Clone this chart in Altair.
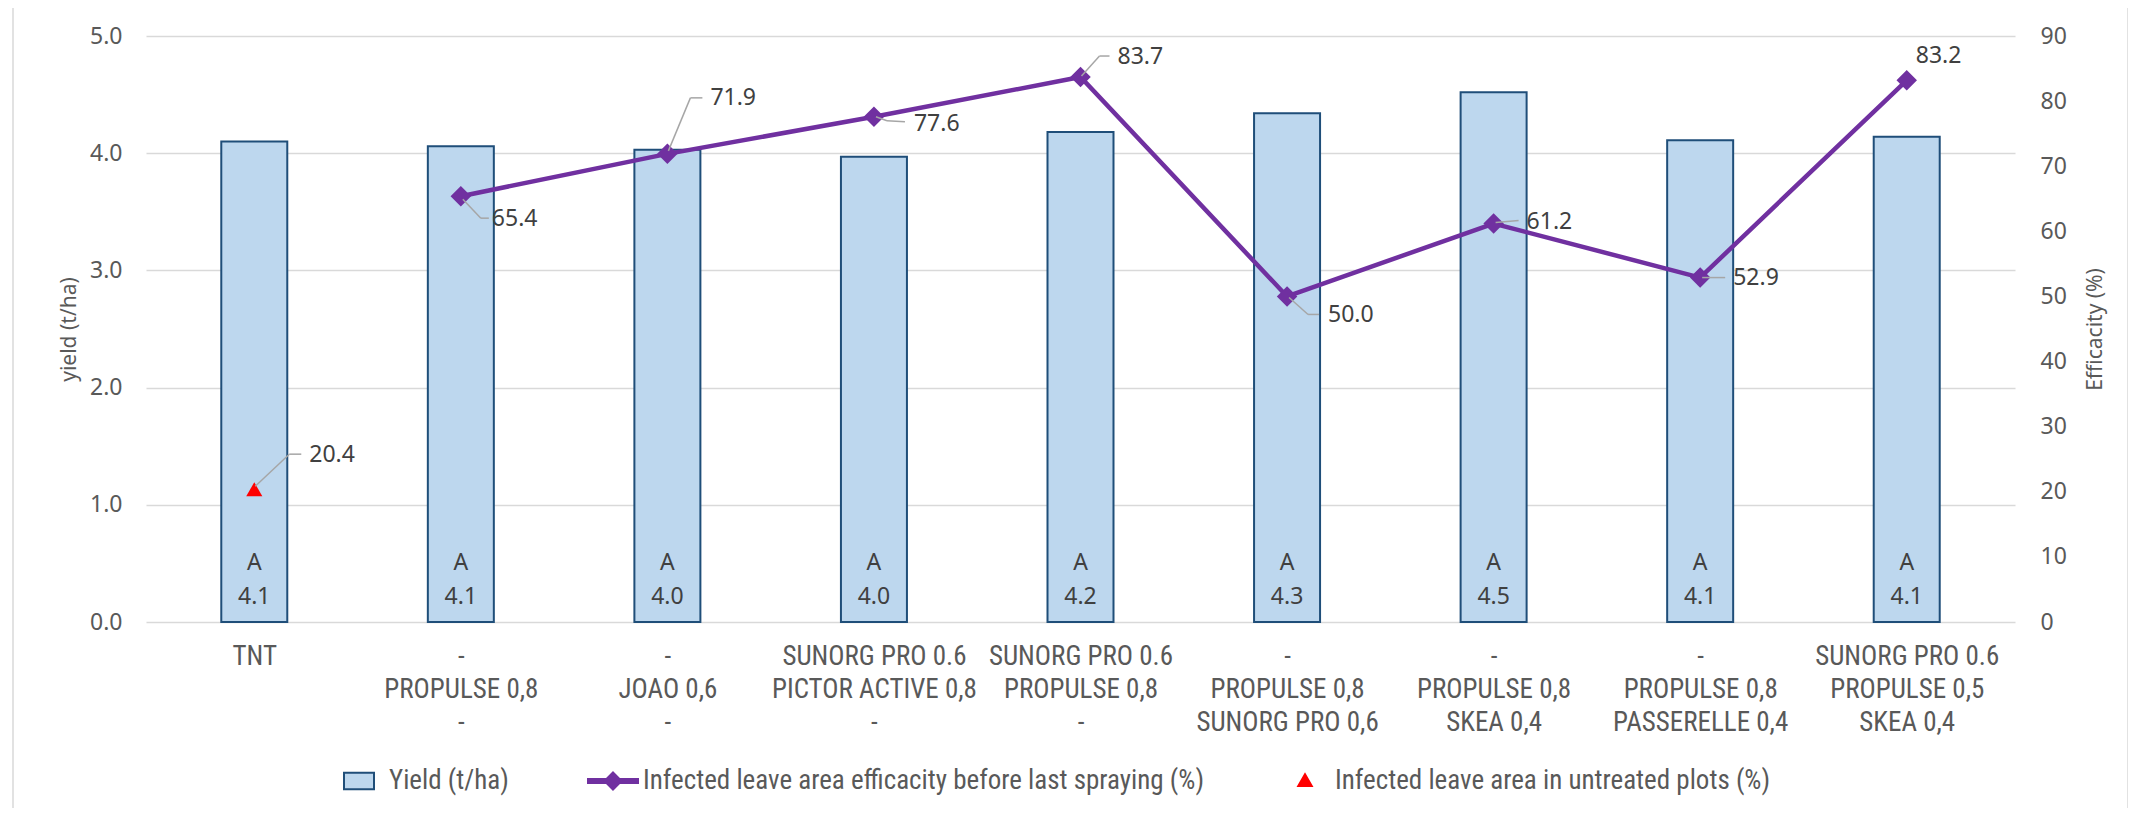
import json
import altair as alt
import pandas as pd

# ---------------- data ----------------
treatments = [
    ["TNT"],
    ["-", "PROPULSE 0,8", "-"],
    ["-", "JOAO 0,6", "-"],
    ["SUNORG PRO 0.6", "PICTOR ACTIVE 0,8", "-"],
    ["SUNORG PRO 0.6", "PROPULSE 0,8", "-"],
    ["-", "PROPULSE 0,8", "SUNORG PRO 0,6"],
    ["-", "PROPULSE 0,8", "SKEA 0,4"],
    ["-", "PROPULSE 0,8", "PASSERELLE 0,4"],
    ["SUNORG PRO 0.6", "PROPULSE 0,5", "SKEA 0,4"],
]
groups = ["A", "A", "A", "A", "A", "A", "A", "A", "A"]
yield_t_ha = [4.10, 4.06, 4.03, 3.97, 4.18, 4.34, 4.52, 4.11, 4.14]
efficacity = [None, 65.4, 71.9, 77.6, 83.7, 50.0, 61.2, 52.9, 83.2]
untreated = [20.4, None, None, None, None, None, None, None, None]
series = [
    "Yield (t/ha)",
    "Infected leave area efficacity before last spraying (%)",
    "Infected leave area in untreated plots (%)",
]

df = pd.DataFrame({
    "idx": list(range(len(treatments))),
    "yield": yield_t_ha,
    "eff": efficacity,
    "untreated": untreated,
    "bar_label": [f"{g}\n{v:.1f}" for g, v in zip(groups, yield_t_ha)],
})
legend_df = pd.DataFrame({"series": series, "none": [None] * len(series)})
frame_df = pd.DataFrame({"frame": [0]})

# ---------------- style ----------------
NUM = "Noto Sans"
NARROW = "Liberation Sans Narrow, Roboto Condensed, Roboto"
AX = "#595959"
LBL = "#404040"
PURPLE = "#7030A0"
BAR_FILL = "#BDD7EE"
BAR_STROKE = "#1F4E79"
LEADER = "#A6A6A6"
GRID = "#D9D9D9"

label_expr = json.dumps(treatments) + "[datum.value]"

x_enc = alt.X(
    "idx:Q",
    scale=alt.Scale(domain=[-0.5, len(treatments) - 0.5], nice=False, zero=False),
    axis=alt.Axis(
        values=list(range(len(treatments))), labelExpr=label_expr, title=None,
        grid=False, domain=False, ticks=False, labelFlush=False,
        labelOverlap=False, labelBound=False, labelPadding=21, labelLimit=600,
        labelFont=NARROW, labelFontSize=27, labelLineHeight=33,
        labelColor=AX, labelBaseline="top", labelAlign="center",
    ),
)

left_axis = alt.Axis(
    values=[0, 1, 2, 3, 4, 5], format=".1f", grid=True, gridColor=GRID,
    gridWidth=1.5, domain=False, ticks=False, labelPadding=24,
    labelFont=NUM, labelFontSize=23, labelColor=AX,
    title="yield (t/ha)", titleFont=NUM, titleFontSize=21, titleColor=AX,
    titleFontWeight="normal", titlePadding=10,
)
y_left = alt.Y("yield:Q", scale=alt.Scale(domain=[0, 5], nice=False), axis=left_axis)

right_axis = alt.Axis(
    orient="right", values=list(range(0, 91, 10)), grid=False, domain=False,
    ticks=False, labelPadding=25, labelAlign="left",
    labelFont=NUM, labelFontSize=23, labelColor=AX,
    title="Efficacity (%)", titleFont=NUM, titleFontSize=21, titleColor=AX,
    titleFontWeight="normal", titleAngle=270, titleBaseline="top", titlePadding=18,
)


def y_right(field):
    return alt.Y(f"{field}:Q", scale=alt.Scale(domain=[0, 90], nice=False), axis=right_axis)


# ---------------- left layer (bars) ----------------
frame = alt.Chart(frame_df).mark_rect(
    fillOpacity=0, stroke=GRID, strokeWidth=1.5
).encode(x=alt.value(-133), x2=alt.value(1982), y=alt.value(-30), y2=alt.value(775))

bars = alt.Chart(df).mark_bar(
    size=66, fill=BAR_FILL, stroke=BAR_STROKE, strokeWidth=2
).encode(x=x_enc, y=y_left)

bar_text = alt.Chart(df).mark_text(
    lineBreak="\n", baseline="alphabetic", dy=-52, lineHeight=34,
    font=NUM, fontSize=23, color=LBL,
).encode(x=x_enc, y=alt.datum(0), text="bar_label:N")

leg = alt.Legend(
    title=None, orient="none", legendX=187, legendY=719, direction="horizontal",
    columnPadding=75, labelFont=NARROW, labelFontSize=27, labelColor=AX,
    labelLimit=2000, symbolStrokeWidth=2, labelOffset=4, symbolSize=2500,
)
rect_path = "M-0.6,-0.33L0.6,-0.33L0.6,0.33L-0.6,0.33Z"
line_path = "M-1,-0.08L1,-0.08L1,0.08L-1,0.08Z M0,-0.34L0.34,0L0,0.34L-0.34,0Z"
tri_path = "M0,-0.27L0.27,0.2L-0.27,0.2Z"
legend_layer = alt.Chart(legend_df).mark_point(filled=True, opacity=1, size=2500).encode(
    y=alt.Y("none:Q", scale=alt.Scale(domain=[0, 5], nice=False), axis=left_axis),
    fill=alt.Fill("series:N", scale=alt.Scale(domain=series, range=[BAR_FILL, PURPLE, "#FF0000"]), legend=leg),
    stroke=alt.Stroke("series:N", scale=alt.Scale(domain=series, range=[BAR_STROKE, PURPLE, "#FF0000"]), legend=leg),
    shape=alt.Shape("series:N", scale=alt.Scale(domain=series, range=[rect_path, line_path, tri_path]), legend=leg),
)

left = alt.layer(frame, bars, bar_text, legend_layer)

# ---------------- right layer (efficacity) ----------------
line = alt.Chart(df).mark_line(color=PURPLE, strokeWidth=4.5).encode(x=x_enc, y=y_right("eff"))
pts = alt.Chart(df).mark_point(
    shape="diamond", filled=True, size=420, color=PURPLE, opacity=1
).encode(x=x_enc, y=y_right("eff"))
tri = alt.Chart(df).mark_point(
    shape="triangle-up", filled=True, size=260, color="#FF0000", opacity=1
).encode(x=x_enc, y=y_right("untreated"))

# label placement (pixel offsets from the point): (field, dx, dy, leader segments)
label_layout = {
    0: ("untreated", 55, -34, [(1, -3, 35, -35), (35, -35, 47, -35)]),
    1: ("eff", 31, 23, [(2, 3, 20, 22), (20, 22, 28, 22)]),
    2: ("eff", 43, -56, [(1, -3, 23, -56), (23, -56, 35, -56)]),
    3: ("eff", 40, 7, [(2, 0, 13, 4), (13, 4, 31, 5)]),
    4: ("eff", 37, -20, [(1, -1, 19, -21), (19, -21, 29, -21)]),
    5: ("eff", 41, 19, [(2, 1, 21, 18), (21, 18, 32, 18)]),
    6: ("eff", 33, -2, [(2, -1, 25, -3)]),
    7: ("eff", 33, 0, [(2, 0, 25, 0)]),
    8: ("eff", 9, -24, []),
}

label_layers = []
for i, (field, dx, dy, segs) in label_layout.items():
    base = alt.Chart(df).transform_filter(f"datum.idx == {i}")
    for (x0, y0, x1, y1) in segs:
        label_layers.append(
            base.mark_rule(
                color=LEADER, strokeWidth=1.5,
                xOffset=x0, yOffset=y0, x2Offset=x1, y2Offset=y1,
            ).encode(x=x_enc, x2=alt.X2("idx"), y=y_right(field), y2=alt.Y2(field))
        )
    label_layers.append(
        base.mark_text(
            align="left", baseline="middle", dx=dx, dy=dy,
            font=NUM, fontSize=23, color=LBL,
        ).encode(x=x_enc, y=y_right(field), text=alt.Text(f"{field}:Q", format=".1f"))
    )

right = alt.layer(line, pts, tri, *label_layers)

chart = (
    alt.layer(left, right)
    .resolve_scale(y="independent")
    .properties(
        width=1869, height=586,
        padding={"left": 138, "top": 28, "right": 113, "bottom": 186},
        autosize=alt.AutoSizeParams(type="none"),
        background="white",
    )
    .configure_view(stroke=None)
)

chart.save("out.html", embed_options={"renderer": "svg", "actions": False})
